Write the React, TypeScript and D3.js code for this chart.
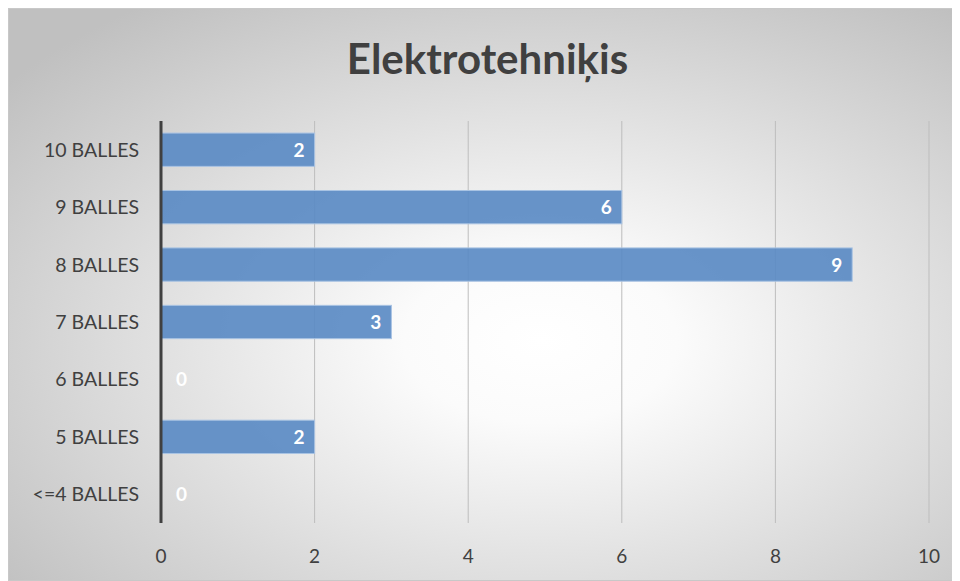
import React from "react";
import * as d3 from "d3";

const categories = ["10 BALLES", "9 BALLES", "8 BALLES", "7 BALLES", "6 BALLES", "5 BALLES", "<=4 BALLES"];
const values = [2, 6, 9, 3, 0, 2, 0];
const xTicks = [0, 2, 4, 6, 8, 10];
const title = "Elektrotehniķis";

export default function App() {
  const W = 951, H = 573;
  const ox = 8, oy = 8;
  const x = d3.scaleLinear().domain([0, 10]).range([161 - ox, 929 - ox]);
  const y = d3.scaleBand().domain(categories).range([121 - oy, 523 - oy]).paddingInner(0.42).paddingOuter(0.21);
  const font = "Lato, 'Open Sans', sans-serif";
  return (
    <svg width={W} height={H} style={{ display: "block" }}>
      <defs>
        <radialGradient id="bg" cx="56%" cy="58%" r="72%">
          <stop offset="0%" stopColor="#ffffff" />
          <stop offset="20%" stopColor="#fbfbfb" />
          <stop offset="100%" stopColor="#c0c0c0" />
        </radialGradient>
      </defs>
      <rect x={0.5} y={0.5} width={W - 1} height={H - 1} fill="url(#bg)" stroke="#c8c8c8" />
      <text x={W / 2 + 4} y={74 - oy} textAnchor="middle" fontFamily={font} fontWeight="bold" fontSize={42} fill="#404040">
        {title}
      </text>
      {xTicks.map((t) => (
        <g key={t}>
          {t > 0 && (
            <line x1={x(t)} x2={x(t)} y1={121 - oy} y2={523 - oy} stroke="#bdbdbd" strokeWidth={1} />
          )}
          <text x={x(t)} y={563 - oy} textAnchor="middle" fontFamily={font} fontSize={19} fill="#404040">
            {t}
          </text>
        </g>
      ))}
      {categories.map((c, i) => {
        const v = values[i];
        const yy = y(c)!;
        const bw = y.bandwidth();
        return (
          <g key={c}>
            {v > 0 && (
              <rect x={x(0)} y={yy} width={x(v) - x(0)} height={bw} fill="#5b8bc4" fillOpacity={0.92} stroke="#a9c3e3" strokeWidth={1} />
            )}
            <text x={x(0) - 22} y={yy + bw / 2} dy="0.36em" textAnchor="end" fontFamily={font} fontSize={19.5} fill="#404040">
              {c}
            </text>
            <text
              x={v > 0 ? x(v) - 10 : x(0) + 15}
              y={yy + bw / 2}
              dy="0.37em"
              textAnchor={v > 0 ? "end" : "start"}
              fontFamily={font}
              fontWeight="bold"
              fontSize={19}
              fill="#ffffff"
            >
              {v}
            </text>
          </g>
        );
      })}
      <line x1={x(0)} x2={x(0)} y1={121 - oy} y2={523 - oy} stroke="#404040" strokeWidth={3} />
    </svg>
  );
}
